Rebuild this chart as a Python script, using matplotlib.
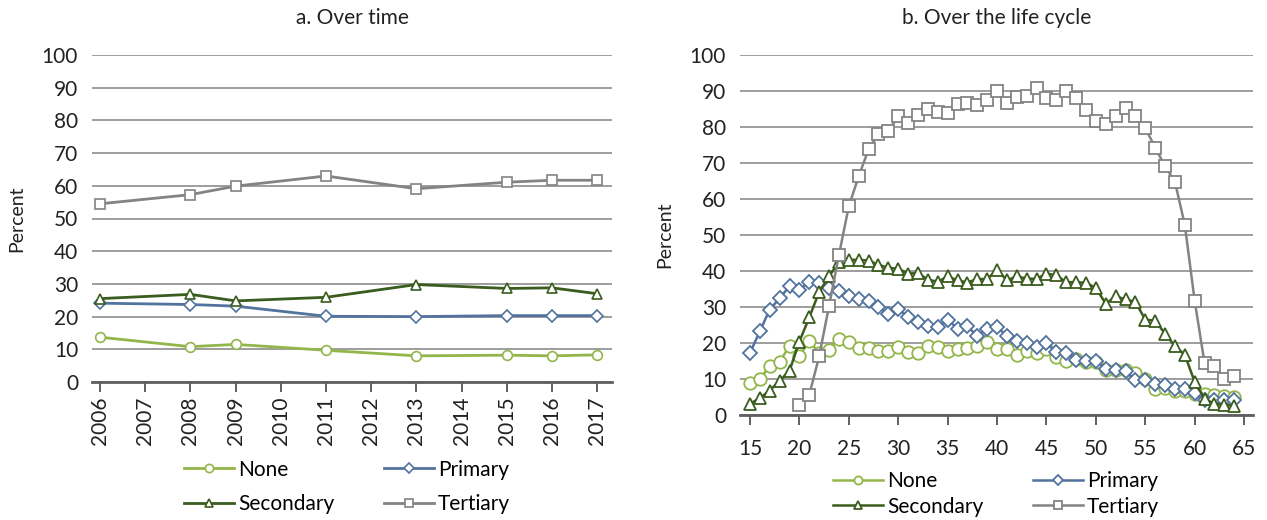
import matplotlib
matplotlib.use("Agg")
import matplotlib.pyplot as plt
import numpy as np

plt.rcParams['font.family'] = ['Lato', 'DejaVu Sans']

# Panel a: share of workers by education level, by survey year
years = [2006, 2008, 2009, 2011, 2013, 2015, 2016, 2017]
year_ticks = list(range(2006, 2018))
none_time = [13.7, 10.8, 11.5, 9.7, 8.0, 8.2, 8.0, 8.3]
primary_time = [24.1, 23.7, 23.2, 20.1, 20.0, 20.3, 20.3, 20.3]
secondary_time = [25.5, 26.8, 24.8, 25.9, 29.8, 28.6, 28.8, 27.0]
tertiary_time = [54.5, 57.3, 59.9, 63.0, 59.1, 61.1, 61.7, 61.7]

# Panel b: by age
ages = list(range(15, 65))
tertiary_ages = list(range(20, 65))
none_age = [9.0, 10.0, 13.7, 14.8, 19.2, 16.4, 20.6, 17.2, 18.1, 21.2,
            20.2, 18.6, 18.5, 17.8, 17.8, 18.9, 17.5, 17.1, 19.3, 18.9,
            17.9, 18.3, 18.7, 19.2, 20.2, 18.3, 18.4, 16.6, 17.8, 17.2,
            18.4, 16.1, 14.9, 15.5, 14.7, 14.7, 12.6, 12.6, 12.4, 11.8,
            10.1, 7.3, 7.5, 6.7, 6.6, 5.8, 5.8, 5.5, 5.2, 4.9]
primary_age = [17.2, 23.3, 29.3, 32.4, 35.8, 34.8, 36.9, 36.7, 35.2, 34.4,
               33.1, 32.2, 31.8, 30.0, 28.1, 29.5, 27.2, 25.8, 24.7, 24.4,
               26.5, 24.0, 24.6, 22.0, 24.0, 24.4, 22.0, 20.5, 19.9, 19.0,
               19.9, 17.4, 17.2, 15.3, 15.0, 15.0, 12.8, 12.6, 12.2, 9.8,
               9.6, 8.5, 8.3, 7.3, 7.1, 6.0, 4.1, 4.3, 4.1, 4.1]
secondary_age = [3.1, 4.7, 6.8, 9.5, 12.3, 20.4, 27.1, 34.2, 38.5, 42.5,
                 43.1, 43.1, 42.9, 41.7, 40.9, 40.6, 39.3, 39.4, 37.6, 37.0,
                 38.5, 37.4, 36.8, 37.8, 37.7, 40.4, 37.4, 38.5, 37.9, 37.8,
                 39.3, 38.8, 36.9, 36.9, 36.7, 35.3, 30.9, 33.0, 32.1, 31.4,
                 26.5, 26.2, 22.6, 19.1, 16.7, 9.2, 4.5, 3.1, 2.8, 2.6]
tertiary_age = [2.8, 5.6, 16.3, 30.3, 44.4, 58.0, 66.3, 73.8, 78.1, 78.8,
                83.0, 81.1, 83.3, 85.1, 84.2, 83.9, 86.3, 86.7, 86.0, 87.5,
                89.9, 86.7, 88.3, 88.7, 90.9, 88.1, 87.4, 90.1, 88.1, 84.6,
                81.6, 80.8, 83.1, 85.4, 83.1, 79.7, 74.3, 69.1, 64.8, 52.8,
                31.7, 14.4, 13.7, 10.0, 10.8]

labels = ["None", "Primary", "Secondary", "Tertiary"]
colors = ["#93b64a", "#52739e", "#3a5c1e", "#838383"]
markers = ["o", "D", "^", "s"]
TEXT = "#222222"

fig = plt.figure(figsize=(12.67, 5.2), dpi=100)
ax_a = fig.add_axes([92 / 1267, 138 / 520, 520 / 1267, 327 / 520])
ax_b = fig.add_axes([740 / 1267, 105 / 520, 513 / 1267, 360 / 520])


def style_axis(ax, xpad):
    ax.set_ylim(0, 100)
    ax.set_yticks(range(0, 101, 10))
    ax.grid(axis="y", color="#8c8c8c", linewidth=1.2)
    ax.set_axisbelow(True)
    for side in ["top", "right", "left"]:
        ax.spines[side].set_visible(False)
    ax.spines["bottom"].set_color("#5f5f5f")
    ax.spines["bottom"].set_linewidth(2)
    ax.yaxis.set_tick_params(length=0, labelsize=15, labelcolor=TEXT, pad=10)
    ax.xaxis.set_tick_params(length=7, width=1.2, color="#444444",
                             labelsize=15, labelcolor=TEXT, pad=xpad)
    ax.set_ylabel("Percent", fontsize=14, color=TEXT, labelpad=12)


def add_legend(ax, center, spacing, mscale):
    # row-wise order: None, Primary / Secondary, Tertiary
    h, l = ax.get_legend_handles_labels()
    order = [0, 2, 1, 3]
    ax.legend([h[i] for i in order], [l[i] for i in order],
              loc="center", bbox_to_anchor=center, bbox_transform=fig.transFigure,
              ncol=2, frameon=False, fontsize=15, handlelength=2.4,
              handletextpad=0.2, columnspacing=2.4, labelspacing=spacing,
              markerscale=mscale)


# Over time
series_time = [none_time, primary_time, secondary_time, tertiary_time]
msizes_a = [7, 6, 7, 7]
for vals, lab, col, mk, ms in zip(series_time, labels, colors, markers, msizes_a):
    ax_a.plot(years, vals, color=col, linewidth=2.0, marker=mk, markersize=ms,
              markerfacecolor="white", markeredgecolor=col, markeredgewidth=1.2,
              label=lab)
ax_a.set_xlim(2005.82, 2017.33)
ax_a.set_xticks(year_ticks)
ax_a.set_xticklabels([str(y) for y in year_ticks], rotation=90)
style_axis(ax_a, 3.5)
ax_a.set_title("a. Over time", fontsize=15, color=TEXT, pad=22)
add_legend(ax_a, (347 / 1267, 1 - 487 / 520), 0.7, 0.85)

# Over the life cycle
series_age = [(ages, none_age), (ages, primary_age), (ages, secondary_age),
              (tertiary_ages, tertiary_age)]
msizes_b = [9, 7.5, 9, 9]
for (xs, vals), lab, col, mk, ms in zip(series_age, labels, colors, markers, msizes_b):
    ax_b.plot(xs, vals, color=col, linewidth=1.8, marker=mk, markersize=ms,
              markerfacecolor="white", markeredgecolor=col, markeredgewidth=1.3,
              label=lab)
ax_b.set_xlim(13.99, 65.9)
ax_b.set_xticks(range(15, 66, 5))
style_axis(ax_b, 10)
ax_b.set_title("b. Over the life cycle", fontsize=15, color=TEXT, pad=22)
add_legend(ax_b, (996 / 1267, 1 - 494 / 520), 0.25, 0.65)

fig.savefig("out.png", dpi=100)
